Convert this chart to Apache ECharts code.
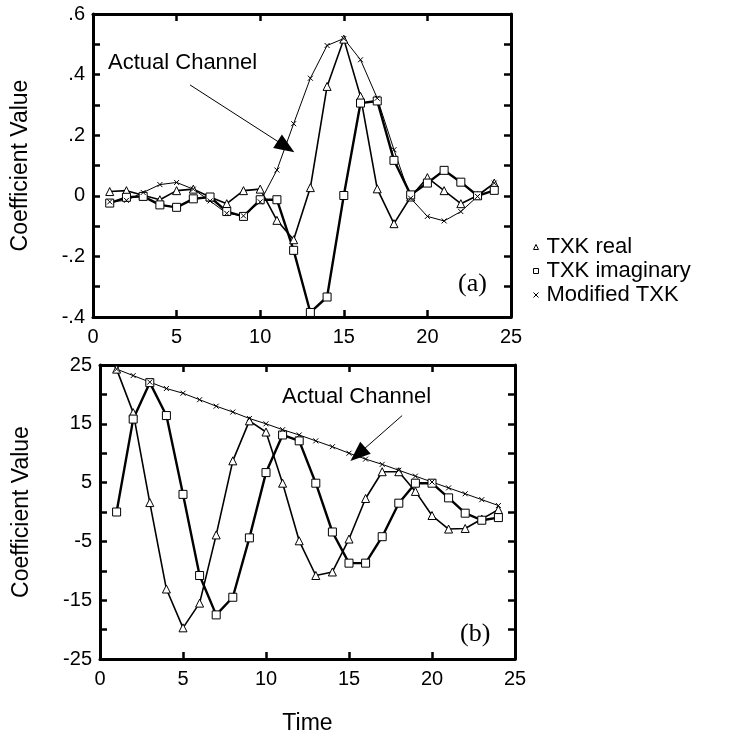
<!DOCTYPE html>
<html>
<head>
<meta charset="utf-8">
<script src="https://cdn.jsdelivr.net/npm/echarts@6/dist/echarts.min.js"></script>
<style>
  html, body { margin: 0; padding: 0; background: #fff; }
  #main { width: 732px; height: 736px; }
</style>
</head>
<body>
<div id="main"></div>
<script>
// time steps
const time = [1,2,3,4,5,6,7,8,9,10,11,12,13,14,15,16,17,18,19,20,21,22,23,24]

// (a) coefficients
const aReal = [0.014, 0.017, 0.002, -0.013, 0.017, 0.022, -0.004, -0.026, 0.017, 0.022, -0.081, -0.145,
  0.027, 0.361, 0.517, 0.328, 0.023, -0.092, -0.004, 0.060, 0.017, -0.026, 0.001, 0.042]
const aImag = [-0.024, -0.005, -0.002, -0.030, -0.038, -0.010, -0.004, -0.052, -0.068, -0.013, -0.013, -0.180,
  -0.385, -0.334, 0.001, 0.306, 0.313, 0.117, 0.003, 0.042, 0.084, 0.045, 0.000, 0.018]
const aMod = [-0.020, -0.015, 0.011, 0.037, 0.044, 0.022, -0.017, -0.058, -0.066, -0.020, 0.085, 0.238,
  0.388, 0.496, 0.519, 0.449, 0.322, 0.152, -0.008, -0.068, -0.083, -0.052, -0.002, 0.042]

// (b) coefficients
const bReal = [24.3, 16.9, 1.6, -13.1, -19.7, -15.5, -3.9, 8.7, 15.5, 13.6, 4.9, -4.9,
  -10.8, -10.2, -4.6, 2.3, 6.85, 6.85, 3.5, -0.6, -2.9, -2.8, -1.2, 0.4]
const bImag = [0, 15.8, 22.0, 16.4, 3.0, -10.8, -17.5, -14.5, -4.4, 6.7, 13.1, 12.1,
  4.9, -3.4, -8.7, -8.7, -4.2, 1.5, 4.9, 4.9, 2.4, -0.2, -1.4, -0.95]
const bMod = [24.3, 23.2, 22.1, 21.0, 20.2, 19.1, 18.0, 17.0, 15.9, 15.0, 14.0, 13.1,
  12.1, 11.1, 10.0, 9.0, 8.1, 7.1, 6.1, 5.1, 4.1, 3.1, 2.1, 1.1]

// arrows "Actual Channel" [from, to] in data coords
const arrowA = [[5.8, 0.366], [11.54, 0.162]]
const arrowB = [[18.2, 16.4], [15.54, 9.8]]

const names = ['TXK real', 'TXK imaginary', 'Modified TXK']
const crossPath = 'path://M0,0L10,10M10,0L0,10'
const font = 'Liberation Sans, Arial, sans-serif'

function pairs(ys){
  return time.map((t, i) => [t, ys[i]])
}

function xAxisOf(grid, pos, show){
  return {
    type: 'value', gridIndex: grid, position: pos, min: 0, max: 25, interval: 5,
    axisLine: { onZero: false, lineStyle: { color: '#000', width: 3 } },
    axisTick: { inside: true, length: 7, lineStyle: { color: '#000', width: 2.5 } },
    axisLabel: { show: show, color: '#000', fontSize: 20, fontFamily: font, margin: 10 },
    splitLine: { show: false }
  }
}

function yAxisOf(grid, pos, show, ext, fmt){
  return Object.assign({
    type: 'value', gridIndex: grid, position: pos,
    axisLine: { onZero: false, lineStyle: { color: '#000', width: 3 } },
    axisTick: { inside: true, length: 7, lineStyle: { color: '#000', width: 2.5 } },
    axisLabel: { show: show, color: '#000', fontSize: 20, fontFamily: font, margin: 8, formatter: fmt },
    splitLine: { show: false }
  }, ext)
}

// labels only every other tick: .6 .4 .2 0 -.2 -.4
function fmtA(v){
  let k = Math.round(v * 10)
  if (k % 2 !== 0) return ''
  if (k === 0) return '0'
  return (k / 10).toFixed(1).replace('0.', '.')
}
// 25 15 5 -5 -15 -25
function fmtB(v){
  let k = Math.round(v)
  return ((k + 25) / 5) % 2 === 0 ? String(k) : ''
}

function lineSeries(name, grid, data){
  let cfg = {
    'TXK real': { symbol: 'triangle', size: 8, width: 1.6 },
    'TXK imaginary': { symbol: 'rect', size: 8, width: 2.4 },
    'Modified TXK': { symbol: crossPath, size: 5, width: 1 }
  }[name]
  return {
    name: name, type: 'line', xAxisIndex: grid * 2, yAxisIndex: grid * 2,
    data: pairs(data), symbol: cfg.symbol, symbolSize: cfg.size, showSymbol: true,
    lineStyle: { color: '#000', width: cfg.width },
    itemStyle: { color: '#fff', borderColor: '#000', borderWidth: 1 },
    emphasis: { disabled: true }, silent: true
  }
}

function arrowOf(grid, a){
  return {
    type: 'line', xAxisIndex: grid * 2, yAxisIndex: grid * 2, data: [], silent: true,
    markLine: {
      silent: true, animation: false,
      symbol: ['none', 'triangle'], symbolSize: [16, 20],
      label: { show: false },
      lineStyle: { color: '#000', width: 1, type: 'solid' },
      emphasis: { disabled: true },
      data: [[{ coord: a[0] }, { coord: a[1] }]]
    }
  }
}

let chart = echarts.init(document.getElementById('main'))
let yName = { name: 'Coefficient Value', nameLocation: 'middle',
  nameTextStyle: { color: '#000', fontSize: 23, fontFamily: font } }

chart.setOption({
  animation: false,
  backgroundColor: '#fff',
  grid: [
    { left: 93, top: 14, width: 418, height: 303 },
    { left: 100, top: 365, width: 415, height: 303 }
  ],
  xAxis: [
    xAxisOf(0, 'bottom', true), xAxisOf(0, 'top', false),
    Object.assign(xAxisOf(1, 'bottom', true), { name: 'Time', nameLocation: 'middle', nameGap: 53,
      nameTextStyle: { color: '#000', fontSize: 23, fontFamily: font } }),
    xAxisOf(1, 'top', false)
  ],
  yAxis: [
    yAxisOf(0, 'left', true, Object.assign({ min: -0.4, max: 0.6, interval: 0.1, nameGap: 61 }, yName), fmtA),
    yAxisOf(0, 'right', false, { min: -0.4, max: 0.6, interval: 0.1 }),
    yAxisOf(1, 'left', true, Object.assign({ min: -25, max: 25, interval: 5, nameGap: 67 }, yName), fmtB),
    yAxisOf(1, 'right', false, { min: -25, max: 25, interval: 5 })
  ],
  legend: {
    orient: 'vertical', left: 528, top: 230, itemGap: 0, itemWidth: 5, itemHeight: 5,
    selectedMode: false,
    textStyle: { color: '#000', fontSize: 22, fontFamily: font, lineHeight: 24, padding: [0, 0, 0, 3] },
    itemStyle: { color: '#fff', borderColor: '#000', borderWidth: 1 },
    data: [
      { name: names[0], icon: 'triangle' },
      { name: names[1], icon: 'rect' },
      { name: names[2], icon: crossPath }
    ]
  },
  graphic: [
    { type: 'text', left: 108, top: 52, style: { text: 'Actual Channel', fill: '#000', fontSize: 22, fontFamily: font } },
    { type: 'text', left: 282, top: 386, style: { text: 'Actual Channel', fill: '#000', fontSize: 22, fontFamily: font } },
    { type: 'text', left: 458, top: 271, style: { text: '(a)', fill: '#000', fontSize: 26, fontFamily: 'Liberation Serif, serif' } },
    { type: 'text', left: 460, top: 621, style: { text: '(b)', fill: '#000', fontSize: 26, fontFamily: 'Liberation Serif, serif' } }
  ],
  series: [
    lineSeries(names[0], 0, aReal),
    lineSeries(names[1], 0, aImag),
    lineSeries(names[2], 0, aMod),
    lineSeries(names[0], 1, bReal),
    lineSeries(names[1], 1, bImag),
    lineSeries(names[2], 1, bMod),
    arrowOf(0, arrowA),
    arrowOf(1, arrowB)
  ]
})
</script>
</body>
</html>
